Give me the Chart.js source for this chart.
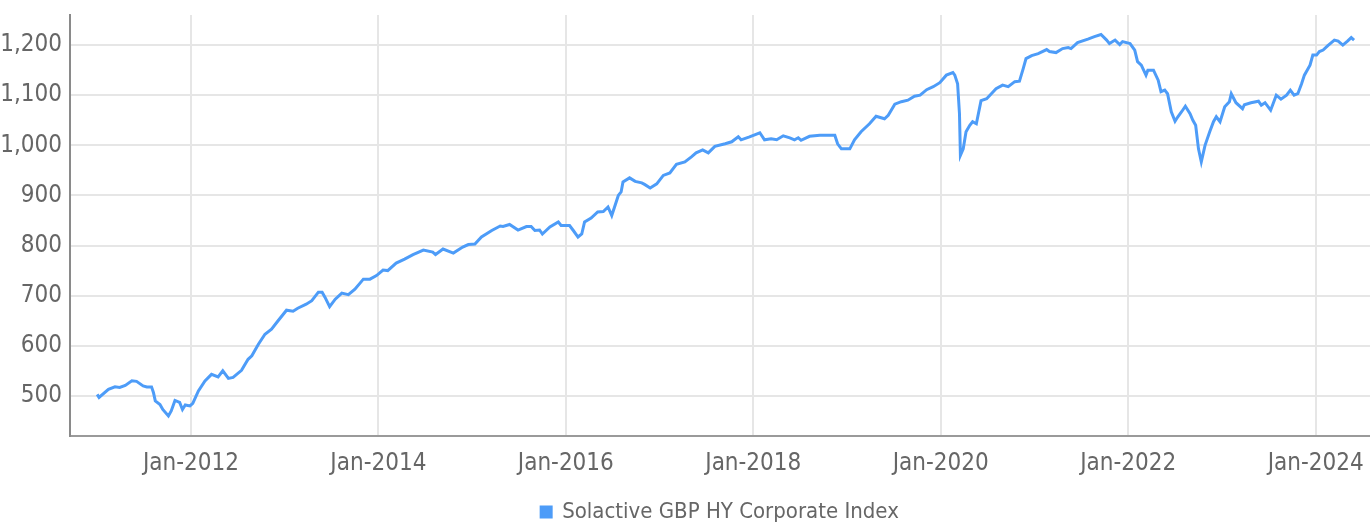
<!DOCTYPE html>
<html>
<head>
<meta charset="utf-8">
<script src="https://cdn.jsdelivr.net/npm/chart.js@4.4.1/dist/chart.umd.min.js"></script>
<style>
  body { margin: 0; background: #fff; }
  #wrap { width: 1370px; height: 525px; }
</style>
</head>
<body>
<div id="wrap"><canvas id="myChart" width="1370" height="525"></canvas></div>
<script>
// dates as decimal years
const dates = [
  2011.00, 2011.02, 2011.12, 2011.19, 2011.24, 2011.30, 2011.37, 2011.42, 2011.49, 2011.53, 2011.58, 2011.60, 2011.62, 2011.67, 2011.70, 2011.76, 2011.79, 2011.83, 2011.88, 2011.91, 2011.94, 2011.99,
  2012.02, 2012.08, 2012.15, 2012.22, 2012.29, 2012.34, 2012.40, 2012.45, 2012.54, 2012.61, 2012.65, 2012.72, 2012.79, 2012.86, 2012.93,
  2013.02, 2013.09, 2013.14, 2013.23, 2013.29, 2013.36, 2013.40, 2013.43, 2013.48, 2013.54, 2013.61, 2013.68, 2013.75, 2013.84, 2013.91, 2013.98,
  2014.05, 2014.10, 2014.19, 2014.28, 2014.37, 2014.48, 2014.58, 2014.61, 2014.69, 2014.80, 2014.90, 2014.96,
  2015.03, 2015.10, 2015.21, 2015.30, 2015.33, 2015.40, 2015.49, 2015.58, 2015.63, 2015.67, 2015.72, 2015.75, 2015.83, 2015.92, 2015.95,
  2016.04, 2016.08, 2016.13, 2016.17, 2016.20, 2016.27, 2016.34, 2016.40, 2016.45, 2016.49, 2016.52, 2016.56, 2016.59, 2016.61, 2016.68, 2016.74, 2016.81, 2016.84, 2016.90, 2016.97,
  2017.04, 2017.11, 2017.18, 2017.27, 2017.34, 2017.39, 2017.46, 2017.52, 2017.59, 2017.70, 2017.77, 2017.84, 2017.87, 2017.96,
  2018.07, 2018.12, 2018.19, 2018.25, 2018.32, 2018.39, 2018.44, 2018.48, 2018.51, 2018.60, 2018.71, 2018.82, 2018.87, 2018.90, 2018.94, 2018.99,
  2019.03, 2019.08, 2019.15, 2019.24, 2019.31, 2019.40, 2019.44, 2019.51, 2019.58, 2019.65, 2019.72, 2019.78, 2019.85, 2019.92, 2019.99,
  2020.06, 2020.13, 2020.15, 2020.18, 2020.20, 2020.21, 2020.24, 2020.27, 2020.31, 2020.34, 2020.38, 2020.43, 2020.49, 2020.54, 2020.59, 2020.66, 2020.72, 2020.79, 2020.84, 2020.88, 2020.91, 2020.97,
  2021.04, 2021.13, 2021.16, 2021.23, 2021.30, 2021.36, 2021.39, 2021.46, 2021.57, 2021.64, 2021.71, 2021.77, 2021.80, 2021.86, 2021.91, 2021.94,
  2022.02, 2022.07, 2022.10, 2022.14, 2022.19, 2022.21, 2022.27, 2022.32, 2022.35, 2022.39, 2022.42, 2022.46, 2022.50, 2022.53, 2022.57, 2022.61, 2022.66, 2022.69, 2022.72, 2022.75, 2022.78, 2022.82, 2022.87, 2022.91, 2022.94, 2022.98,
  2023.03, 2023.08, 2023.10, 2023.15, 2023.22, 2023.24, 2023.31, 2023.39, 2023.42, 2023.46, 2023.52, 2023.58, 2023.63, 2023.69, 2023.73, 2023.77, 2023.81, 2023.85, 2023.88, 2023.94, 2023.97,
  2024.01, 2024.04, 2024.08, 2024.13, 2024.20, 2024.24, 2024.29, 2024.34, 2024.38, 2024.41
];

const values = [
  503, 497, 513, 518, 517, 521, 530, 529, 520, 518, 518, 507, 490, 483, 473, 460, 470, 491, 487, 473, 482, 480,
  485, 510, 530, 543, 538, 550, 535, 537, 551, 573, 580, 603, 623, 633, 650,
  671, 669, 675, 683, 690, 707, 707, 697, 678, 693, 705, 702, 713, 733, 733, 740,
  751, 750, 765, 773, 782, 791, 787, 782, 793, 785, 797, 802,
  803, 817, 830, 839, 838, 842, 831, 838, 838, 830, 831, 823, 837, 847, 840,
  840, 830, 817, 823, 847, 855, 867, 868, 877, 860, 877, 900, 907, 927, 935, 928, 925, 922, 915, 923,
  940, 945, 962, 967, 977, 985, 991, 985, 998, 1003, 1007, 1017, 1011, 1017,
  1025, 1011, 1013, 1011, 1019, 1015, 1011, 1015, 1010, 1018, 1020, 1020, 1020, 1003, 993, 993,
  993, 1011, 1027, 1043, 1058, 1053, 1060, 1082, 1087, 1090, 1098, 1100, 1111, 1117, 1125,
  1140, 1145, 1140, 1123, 1063, 980, 993, 1027, 1040, 1047, 1043, 1089, 1093, 1103, 1113, 1120, 1117, 1127, 1128, 1153, 1173, 1179,
  1183, 1191, 1187, 1185, 1193, 1195, 1193, 1205, 1212, 1217, 1221, 1210, 1203, 1210, 1201, 1207,
  1203, 1190, 1167, 1160, 1140, 1150, 1150, 1130, 1107, 1110, 1103, 1067, 1048, 1057, 1067, 1078, 1063, 1050, 1040, 993, 967, 1000, 1027, 1047, 1057, 1047,
  1077, 1087, 1103, 1085, 1073, 1081, 1085, 1088, 1080, 1085, 1070, 1100, 1092, 1100, 1110, 1100, 1103, 1123, 1140, 1160, 1180,
  1180, 1187, 1190, 1199, 1210, 1208, 1200, 1208, 1215, 1210
];

const seriesName = "Solactive GBP HY Corporate Index";
const xTickYears = [2012, 2014, 2016, 2018, 2020, 2022, 2024];
const yTickValues = [500, 600, 700, 800, 900, 1000, 1100, 1200];

const fontFamily = "'Liberation Sans Narrow', 'DejaVu Sans Condensed', 'Roboto', sans-serif";
const textColor = "#666";

// drop the label overhang chart.js reserves, so the plot area sits where we want it
function noScalePadding(scale) {
  scale.paddingTop = 0;
  scale.paddingBottom = 0;
  scale.paddingLeft = 0;
  scale.paddingRight = 0;
}

function displayChart() {
  const points = dates.map((d, i) => ({ x: d, y: values[i] }));

  const data = {
    datasets: [
      {
        label: seriesName,
        data: points,
        borderColor: "#4d9cf8",
        backgroundColor: "#4d9cf8",
        borderWidth: 3,
        pointRadius: 0,
        tension: 0,
        fill: false,
      },
    ],
  };

  const config = {
    type: "line",
    data: data,
    options: {
      responsive: false,
      animation: false,
      devicePixelRatio: 1,
      layout: { padding: { top: 15, right: 0, bottom: 0, left: 0 } },
      scales: {
        x: {
          type: "linear",
          min: 2010.71,
          max: 2024.58,
          afterBuildTicks: (scale) => {
            scale.ticks = xTickYears.map((v) => ({ value: v }));
          },
          afterFit: (scale) => {
            scale.height = 48;
            noScalePadding(scale);
          },
          ticks: {
            color: textColor,
            font: { family: fontFamily, size: 24 },
            padding: 13,
            maxRotation: 0,
            callback: (v) => "Jan-" + v,
          },
          grid: { color: "#e6e6e6", lineWidth: 2, drawTicks: false },
          border: { color: "#9a9a9a", width: 2 },
        },
        y: {
          min: 420,
          max: 1260,
          afterBuildTicks: (scale) => {
            scale.ticks = yTickValues.map((v) => ({ value: v }));
          },
          afterFit: (scale) => {
            scale.width = 70;
            noScalePadding(scale);
          },
          ticks: {
            color: textColor,
            font: { family: fontFamily, size: 24 },
            padding: 8,
            callback: (v) => v.toLocaleString("en-US"),
          },
          grid: { color: "#e6e6e6", lineWidth: 2, drawTicks: false },
          border: { color: "#8a8a8a", width: 2 },
        },
      },
      plugins: {
        legend: {
          position: "bottom",
          fullSize: false,
          maxHeight: 41,
          labels: {
            color: textColor,
            font: { family: fontFamily, size: 22 },
            boxWidth: 10,
            boxHeight: 10,
            padding: 17,
          },
        },
        tooltip: { enabled: false },
      },
    },
  };
  const myChart = new Chart(document.getElementById("myChart"), config);
}
displayChart();
</script>
</body>
</html>
